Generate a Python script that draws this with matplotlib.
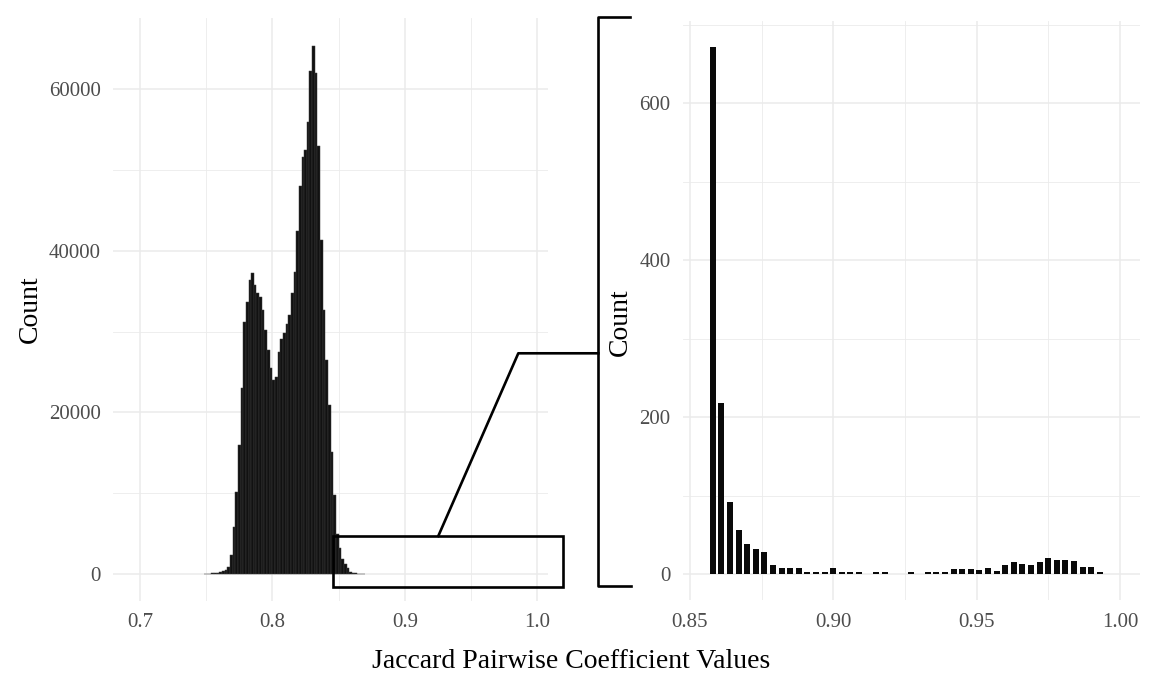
import matplotlib
matplotlib.use("Agg")
import matplotlib.pyplot as plt
from matplotlib.lines import Line2D
from matplotlib.patches import Rectangle

plt.rcParams['font.family'] = ['Liberation Serif', 'DejaVu Serif']

# ---- data: left histogram (bin width 0.002) ----
left_centers = [0.749, 0.751, 0.753, 0.755, 0.757, 0.759, 0.761, 0.763, 0.765, 0.767,
                0.769, 0.771, 0.773, 0.775, 0.777, 0.779, 0.781, 0.783, 0.785, 0.787,
                0.789, 0.791, 0.793, 0.795, 0.797, 0.799, 0.801, 0.803, 0.805, 0.807,
                0.809, 0.811, 0.813, 0.815, 0.817, 0.819, 0.821, 0.823, 0.825, 0.827,
                0.829, 0.831, 0.833, 0.835, 0.837, 0.839, 0.841, 0.843, 0.845, 0.847,
                0.849, 0.851, 0.853, 0.855, 0.857, 0.859, 0.861, 0.863, 0.865, 0.867,
                0.869]
left_counts = [10, 20, 40, 70, 110, 160, 230, 330, 500, 900,
               2300, 5800, 10200, 16000, 23000, 31200, 33700, 36400, 37200, 35800,
               34800, 34300, 32700, 30200, 27700, 25500, 24000, 24400, 27500, 29100,
               29800, 31000, 32000, 34800, 37400, 42400, 48000, 51600, 52500, 55900,
               62200, 65400, 62000, 53000, 41300, 32700, 26500, 20900, 15100, 9800,
               5000, 3200, 1900, 1300, 700, 300, 150, 70, 40, 25,
               15]

# ---- data: right (zoomed) histogram, bins of 0.003 starting at 0.858 ----
right_centers = [0.858, 0.861, 0.864, 0.867, 0.870, 0.873, 0.876, 0.879, 0.882, 0.885,
                 0.888, 0.891, 0.894, 0.897, 0.900, 0.903, 0.906, 0.909, 0.912, 0.915,
                 0.918, 0.921, 0.924, 0.927, 0.930, 0.933, 0.936, 0.939, 0.942, 0.945,
                 0.948, 0.951, 0.954, 0.957, 0.960, 0.963, 0.966, 0.969, 0.972, 0.975,
                 0.978, 0.981, 0.984, 0.987, 0.990, 0.993]
right_counts = [672, 218, 92, 56, 38, 32, 28, 12, 7, 7,
                7, 2, 2, 2, 7, 2, 2, 2, 0, 3,
                3, 0, 0, 2, 0, 2, 3, 3, 6, 6,
                6, 5, 8, 4, 12, 15, 13, 11, 15, 20,
                18, 18, 16, 9, 9, 2]

left_xticks = [0.7, 0.8, 0.9, 1.0]
left_xlabels = ["0.7", "0.8", "0.9", "1.0"]
left_xminor = [0.75, 0.85, 0.95]
left_yticks = [0, 20000, 40000, 60000]
left_yminor = [10000, 30000, 50000]
right_xticks = [0.85, 0.90, 0.95, 1.00]
right_xlabels = ["0.85", "0.90", "0.95", "1.00"]
right_xminor = [0.875, 0.925, 0.975]
right_yticks = [0, 200, 400, 600]
right_yminor = [100, 300, 500, 700]

W, H = 1152, 687
fig = plt.figure(figsize=(W / 100, H / 100), dpi=100)
fig.patch.set_facecolor("white")

GRID = "#EBEBEB"
TICKC = "#4D4D4D"


def style(ax, xt, xl, xm, yt, ym):
    ax.set_xticks(xt)
    ax.set_xticklabels(xl)
    ax.set_xticks(xm, minor=True)
    ax.set_yticks(yt)
    ax.set_yticks(ym, minor=True)
    ax.grid(True, which="major", color=GRID, lw=1.1)
    ax.grid(True, which="minor", color=GRID, lw=0.6)
    ax.set_axisbelow(True)
    for s in ax.spines.values():
        s.set_visible(False)
    ax.tick_params(which="both", length=0, labelsize=15, labelcolor=TICKC)
    ax.tick_params(axis="x", pad=9)
    ax.tick_params(axis="y", pad=9)


# left panel
axL = fig.add_axes([113 / W, 1 - 600.5 / H, 435 / W, 582.2 / H])
axL.bar(left_centers, left_counts, width=0.002, color="#111111",
        edgecolor="#3c3c3c", linewidth=0.35)
axL.set_xlim(0.6796, 1.0082)
axL.set_ylim(-3275, 68775)
style(axL, left_xticks, left_xlabels, left_xminor, left_yticks, left_yminor)

# right panel
axR = fig.add_axes([683 / W, 1 - 600.3 / H, 457 / W, 579.7 / H])
axR.bar(right_centers, right_counts, width=0.0021, color="#0a0a0a", linewidth=0)
axR.set_xlim(0.8476, 1.007)
axR.set_ylim(-33.6, 705.6)
style(axR, right_xticks, right_xlabels, right_xminor, right_yticks, right_yminor)

# axis titles
fig.text(30 / W, 1 - 309 / H, "Count", rotation=90, ha="center", va="center", fontsize=20)
fig.text(620 / W, 1 - 322 / H, "Count", rotation=90, ha="center", va="center", fontsize=20)
fig.text(571 / W, 1 - 662 / H, "Jaccard Pairwise Coefficient Values", ha="center",
         va="center", fontsize=20)


# zoom annotation (pixel positions)
def px(x, y):
    return x / W, 1 - y / H


LW = 1.9
x0, y0 = px(332.7, 587)
x1, y1 = px(563.3, 536)
fig.add_artist(Rectangle((x0, y0), x1 - x0, y1 - y0, transform=fig.transFigure,
                         fill=False, edgecolor="black", lw=LW))
pts = [px(438.3, 536), px(518.3, 353.3), px(598.3, 353.3)]
fig.add_artist(Line2D([p[0] for p in pts], [p[1] for p in pts], transform=fig.transFigure,
                      color="black", lw=LW))
br = [px(630, 17), px(598.3, 17), px(598.3, 586), px(631, 586)]
fig.add_artist(Line2D([p[0] for p in br], [p[1] for p in br], transform=fig.transFigure,
                      color="black", lw=LW))

fig.savefig("out.png", dpi=100, facecolor="white")
